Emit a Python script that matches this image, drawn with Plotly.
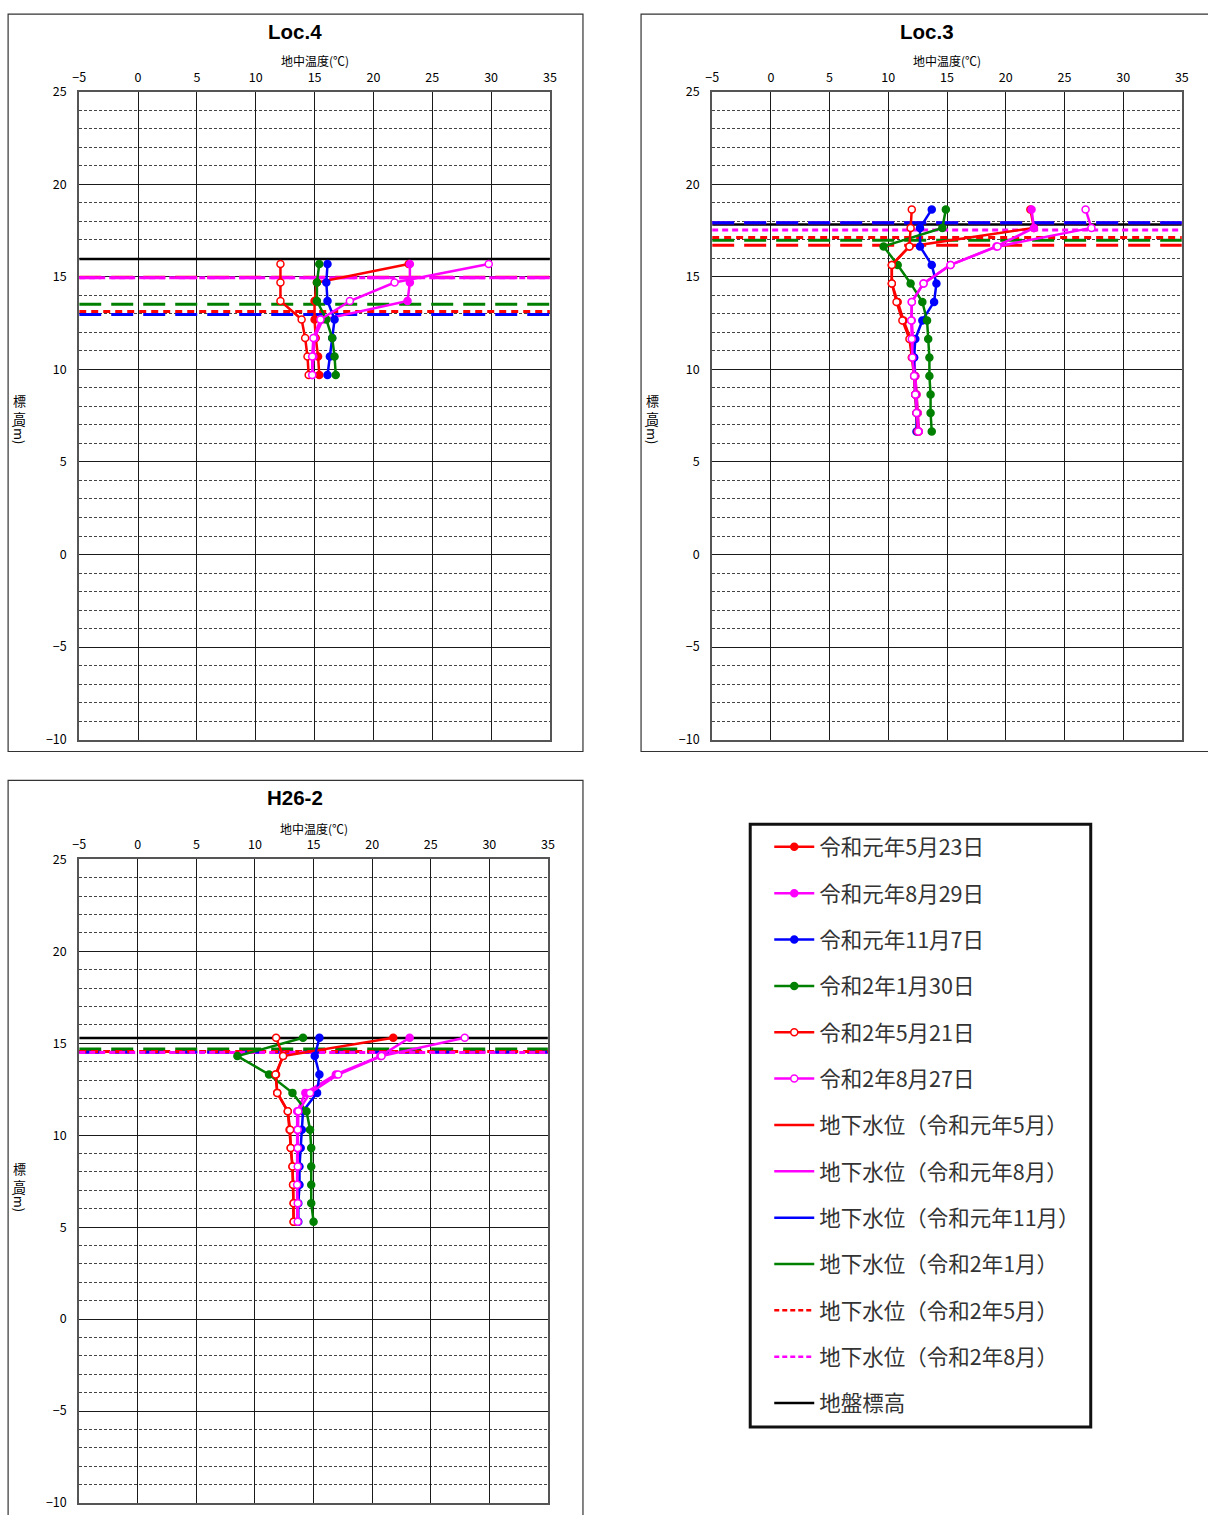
import plotly.graph_objects as go

W, H = 1208, 1515
FONT = "Noto Sans CJK JP"

# ---------------- data ----------------
SERIES_NAMES = ["令和元年5月23日", "令和元年8月29日", "令和元年11月7日",
                "令和2年1月30日", "令和2年5月21日", "令和2年8月27日"]
GW_NAMES = ["地下水位（令和元年5月）", "地下水位（令和元年8月）", "地下水位（令和元年11月）",
            "地下水位（令和2年1月）", "地下水位（令和2年5月）", "地下水位（令和2年8月）"]
GROUND_NAME = "地盤標高"

X_RANGE = [-5, 35]
Y_RANGE = [-10, 25]

# Loc.4
LOC4_ELEV = [15.7, 14.7, 13.7, 12.7, 11.7, 10.7, 9.7]
LOC4_R1_0523 = [23.0, 15.2, 15.0, 15.0, 15.1, 15.3, 15.4]
LOC4_R1_0829 = [23.1, 23.1, 22.9, 15.7, 15.0, 14.9, 14.8]
LOC4_R1_1107 = [16.1, 16.0, 16.1, 16.7, 16.5, 16.3, 16.1]
LOC4_R2_0130 = [15.4, 15.2, 15.2, 16.0, 16.5, 16.7, 16.8]
LOC4_R2_0521 = [12.1, 12.1, 12.1, 13.9, 14.2, 14.4, 14.5]
LOC4_R2_0827 = [29.8, 21.8, 18.0, 15.5, 14.9, 14.8, 14.8]
LOC4_GW = [14.99, 14.95, 12.97, 13.53, 13.13, 14.96]
LOC4_GROUND = 15.97

# Loc.3
LOC3_ELEV = [18.65, 17.65, 16.65, 15.65, 14.65, 13.65, 12.65, 11.65, 10.65, 9.65, 8.65, 7.65, 6.65]
LOC3_R1_0523 = [22.1, 22.4, 11.8, 10.3, 10.3, 10.8, 11.3, 11.9, 12.1, 12.3, 12.4, 12.5, 12.6]
LOC3_R1_0829 = [22.2, 22.4, 19.2, 15.3, 13.0, 12.0, 12.0, 12.1, 12.2, 12.3, 12.4, 12.5, 12.6]
LOC3_R1_1107 = [13.7, 12.7, 12.7, 13.7, 14.1, 13.9, 12.9, 12.3, 12.2, 12.2, 12.3, 12.4, 12.4]
LOC3_R2_0130 = [14.9, 14.6, 9.6, 10.8, 11.9, 12.9, 13.3, 13.4, 13.5, 13.5, 13.6, 13.6, 13.7]
LOC3_R2_0521 = [12.0, 11.9, 11.8, 10.3, 10.3, 10.7, 11.2, 11.8, 12.0, 12.2, 12.3, 12.4, 12.5]
LOC3_R2_0827 = [26.8, 27.3, 19.3, 15.3, 13.0, 12.0, 11.95, 12.0, 12.05, 12.2, 12.3, 12.4, 12.55]
LOC3_GW = [16.71, 17.93, 17.93, 16.98, 17.13, 17.54]
LOC3_GROUND = 17.84

# H26-2
H26_ELEV = [15.3, 14.3, 13.3, 12.3, 11.3, 10.3, 9.3, 8.3, 7.3, 6.3, 5.3]
H26_R1_0523 = [21.8, 12.4, 11.8, 11.9, 12.8, 12.95, 13.05, 13.2, 13.25, 13.3, 13.3]
H26_R1_0829 = [23.2, 20.7, 16.9, 14.3, 13.6, 13.6, 13.6, 13.6, 13.6, 13.6, 13.6]
H26_R1_1107 = [15.5, 15.1, 15.5, 15.3, 14.1, 14.0, 13.9, 13.8, 13.8, 13.7, 13.7]
H26_R2_0130 = [14.1, 8.5, 11.2, 13.2, 14.4, 14.7, 14.8, 14.8, 14.8, 14.8, 15.0]
H26_R2_0521 = [11.8, 12.4, 11.75, 11.9, 12.8, 13.0, 13.05, 13.2, 13.25, 13.3, 13.3]
H26_R2_0827 = [27.9, 20.8, 17.1, 14.7, 13.7, 13.65, 13.65, 13.65, 13.6, 13.65, 13.65]
H26_GW = [14.55, 14.50, 14.52, 14.69, 14.55, 14.50]
H26_GROUND = 15.29

# ---------------- styles ----------------
S_COLORS = ["#FF0000", "#FF00FF", "#0000FF", "#008000", "#FF0000", "#FF00FF"]
S_OPEN = [False, False, False, False, True, True]
GW_COLORS = ["#FF0000", "#FF00FF", "#0000FF", "#008000", "#FF0000", "#FF00FF"]
GW_DASH = ["22px,10px"] * 4 + ["7px,5px", "6px,4px"]

# layout positions are given in reference-picture pixels and converted to paper
# coordinates (compensating for the 8px page frame of the viewer)
SX = 1208 / 1224
SY = 1515 / 1531
OFF = 8


def px_x(r):
    return min(max((r / SX - OFF) / W, 0.0), 1.0)


def px_y(r):
    p = min(max(r / SY - OFF, 0.0), 1511.0)
    return 1 - p / H


panels = [
    dict(title="Loc.4", ax="", elev=LOC4_ELEV,
         temps=[LOC4_R1_0523, LOC4_R1_0829, LOC4_R1_1107, LOC4_R2_0130, LOC4_R2_0521, LOC4_R2_0827],
         gw=LOC4_GW, ground=LOC4_GROUND,
         plot=(80, 550, 89, 738), box=(9, 583, 11, 750), title_y=28, title_x=295, ylab_x=20),
    dict(title="Loc.3", ax="2", elev=LOC3_ELEV,
         temps=[LOC3_R1_0523, LOC3_R1_0829, LOC3_R1_1107, LOC3_R2_0130, LOC3_R2_0521, LOC3_R2_0827],
         gw=LOC3_GW, ground=LOC3_GROUND,
         plot=(712, 1181, 89, 738), box=(641, 1230, 11, 750), title_y=28, title_x=927, ylab_x=652),
    dict(title="H26-2", ax="3", elev=H26_ELEV,
         temps=[H26_R1_0523, H26_R1_0829, H26_R1_1107, H26_R2_0130, H26_R2_0521, H26_R2_0827],
         gw=H26_GW, ground=H26_GROUND,
         plot=(80, 548, 858, 1508), box=(9, 583, 779, 1540), title_y=796, title_x=295, ylab_x=20),
]

fig = go.Figure()
shapes = []
annotations = []
layout_axes = {}

for p in panels:
    xa = "x" + p["ax"]
    ya = "y" + p["ax"]
    x0, x1, y0, y1 = p["plot"]
    # ground level
    fig.add_trace(go.Scatter(x=X_RANGE, y=[p["ground"]] * 2, mode="lines",
                             line=dict(color="#000000", width=2.5),
                             xaxis=xa, yaxis=ya, showlegend=False, hoverinfo="skip"))
    # groundwater levels
    for i, g in enumerate(p["gw"]):
        fig.add_trace(go.Scatter(x=X_RANGE, y=[g, g], mode="lines",
                                 line=dict(color=GW_COLORS[i], width=3, dash=GW_DASH[i]),
                                 xaxis=xa, yaxis=ya, showlegend=False, hoverinfo="skip"))
    # temperature profiles
    for i, t in enumerate(p["temps"]):
        c = S_COLORS[i]
        fig.add_trace(go.Scatter(
            x=t, y=p["elev"], mode="lines+markers",
            line=dict(color=c, width=2.5),
            marker=dict(size=7, color="white" if S_OPEN[i] else c,
                        line=dict(color=c, width=1.5)),
            xaxis=xa, yaxis=ya, showlegend=False, name=SERIES_NAMES[i]))

    common_font = dict(family=FONT, size=12.5, color="#000")
    layout_axes["xaxis" + p["ax"]] = dict(
        domain=[px_x(x0), px_x(x1)], anchor=ya, range=X_RANGE, side="top",
        tick0=0, dtick=5, showgrid=True, gridcolor="#1a1a1a", gridwidth=1,
        showline=True, mirror=True, linecolor="#555", linewidth=2,
        ticks="", ticklabelstandoff=3, zeroline=False, tickfont=common_font,
        fixedrange=True)
    layout_axes["yaxis" + p["ax"]] = dict(
        domain=[px_y(y1), px_y(y0)], anchor=xa, range=Y_RANGE,
        tick0=0, dtick=5, showgrid=True, gridcolor="#1a1a1a", gridwidth=1,
        minor=dict(dtick=1, showgrid=True, gridcolor="#444", griddash="3px,2px", gridwidth=1),
        showline=True, mirror=True, linecolor="#555", linewidth=2,
        ticks="", ticklabelstandoff=8, zeroline=False, tickfont=common_font,
        fixedrange=True)

    bx0, bx1, by0, by1 = p["box"]
    shapes.append(dict(type="rect", xref="paper", yref="paper",
                       x0=px_x(bx0), x1=(bx1 / SX - OFF) / W,
                       y0=1 - (by1 / SY - OFF) / H, y1=px_y(by0),
                       line=dict(color="#333", width=1.2), layer="below"))
    annotations.append(dict(text="<b>" + p["title"] + "</b>", xref="paper", yref="paper",
                            x=px_x(p["title_x"]), y=px_y(p["title_y"]),
                            xanchor="center", yanchor="middle", showarrow=False,
                            font=dict(family="Liberation Sans", size=20.5, color="#000")))
    annotations.append(dict(text="地中温度(℃)", xref="paper", yref="paper",
                            x=px_x((x0 + x1) / 2), y=px_y(y0 - 31),
                            xanchor="center", yanchor="middle", showarrow=False,
                            font=dict(family=FONT, size=12, color="#000")))
    ymid = (y0 + y1) / 2
    annotations.append(dict(text="標<br>高", xref="paper", yref="paper",
                            x=px_x(p["ylab_x"]), y=px_y(ymid - 7),
                            xanchor="center", yanchor="middle", showarrow=False,
                            font=dict(family=FONT, size=13, color="#000")))
    annotations.append(dict(text="(m)", xref="paper", yref="paper", textangle=90,
                            x=px_x(p["ylab_x"]), y=px_y(ymid + 18),
                            xanchor="center", yanchor="middle", showarrow=False,
                            font=dict(family=FONT, size=13, color="#000")))

# ---------------- legend entries (dummy traces) ----------------
rank = 1
for i, n in enumerate(SERIES_NAMES):
    c = S_COLORS[i]
    fig.add_trace(go.Scatter(x=[None], y=[None], mode="lines+markers", name=n,
                             line=dict(color=c, width=2.5),
                             marker=dict(size=7, color="white" if S_OPEN[i] else c,
                                         line=dict(color=c, width=1.5)),
                             legendgroup="g%d" % rank, legendrank=rank))
    rank += 1
for i, n in enumerate(GW_NAMES):
    fig.add_trace(go.Scatter(x=[None], y=[None], mode="lines", name=n,
                             line=dict(color=GW_COLORS[i], width=2.5,
                                       dash="solid" if i < 4 else "5px,3px"),
                             legendgroup="g%d" % rank, legendrank=rank))
    rank += 1
fig.add_trace(go.Scatter(x=[None], y=[None], mode="lines", name=GROUND_NAME,
                         line=dict(color="#000", width=2.5),
                         legendgroup="g%d" % rank, legendrank=rank))

shapes.append(dict(type="rect", xref="paper", yref="paper",
                   x0=px_x(750), x1=px_x(1090), y0=px_y(1427), y1=px_y(823),
                   line=dict(color="#111", width=3)))

fig.update_layout(
    width=W, height=H, margin=dict(l=0, r=0, t=0, b=0),
    paper_bgcolor="white", plot_bgcolor="white",
    shapes=shapes, annotations=annotations,
    showlegend=True,
    legend=dict(x=px_x(769), y=px_y(825), xanchor="left", yanchor="top",
                bgcolor="rgba(0,0,0,0)", borderwidth=0,
                font=dict(family=FONT, size=21.5, color="#333"),
                tracegroupgap=15.4, itemwidth=40, traceorder="grouped"),
    **layout_axes,
)

POST = (
    "document.documentElement.style.margin='0px';"
    "document.body.style.margin='0px';"
    "document.body.style.padding='0px';"
    "var d=document.getElementById('{plot_id}');"
    "d.style.position='fixed';d.style.left='0px';d.style.top='0px';"
)

fig.write_html(
    "out.html",
    config={"displayModeBar": False, "responsive": False},
    post_script=POST,
)
